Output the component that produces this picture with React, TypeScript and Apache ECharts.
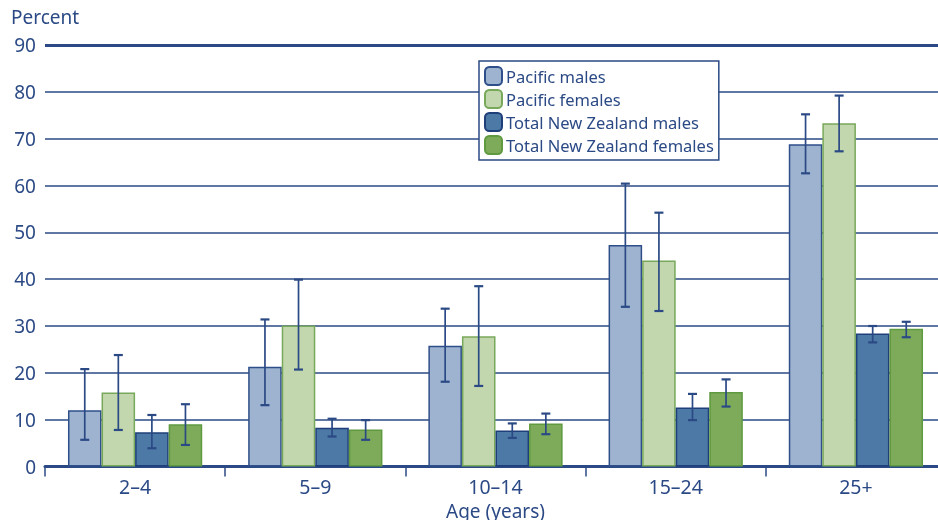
import React, { useEffect, useRef } from "react";
import * as echarts from "echarts";

const categories = ["2–4", "5–9", "10–14", "15–24", "25+"];
const seriesNames = ["Pacific males", "Pacific females", "Total New Zealand males", "Total New Zealand females"];
const pacificMales = [12.0, 21.3, 25.8, 47.3, 68.8];
const pacificFemales = [15.8, 30.1, 27.8, 44.0, 73.3];
const nzMales = [7.3, 8.3, 7.7, 12.6, 28.4];
const nzFemales = [9.0, 7.9, 9.2, 15.9, 29.4];
const pacificMalesLow = [5.7, 13.1, 18.1, 34.1, 62.6];
const pacificMalesHigh = [20.8, 31.4, 33.7, 60.4, 75.2];
const pacificFemalesLow = [7.8, 20.7, 17.2, 33.2, 67.3];
const pacificFemalesHigh = [23.8, 39.9, 38.5, 54.2, 79.2];
const nzMalesLow = [3.9, 6.4, 6.1, 9.9, 26.5];
const nzMalesHigh = [11.0, 10.2, 9.2, 15.5, 30.0];
const nzFemalesLow = [4.6, 5.7, 6.9, 12.8, 27.6];
const nzFemalesHigh = [13.3, 9.9, 11.3, 18.6, 30.9];
const yTicks = { min: 0, max: 90, interval: 10 };

const NAVY = "#2b4a85";
const FONT = "Noto Sans";

export default function App() {
  const ref = useRef<HTMLDivElement>(null);
  useEffect(() => {
    if (!ref.current) return;
    const chart = echarts.init(ref.current, null, { renderer: "svg" });
    const values = [pacificMales, pacificFemales, nzMales, nzFemales];
    const lows = [pacificMalesLow, pacificFemalesLow, nzMalesLow, nzFemalesLow];
    const highs = [pacificMalesHigh, pacificFemalesHigh, nzMalesHigh, nzFemalesHigh];
    const fills = ["#9db3cf", "#c2d7ad", "#4c79a5", "#7eab5a"];
    const borders = ["#2f4f8a", "#78a85a", "#1f3f7a", "#5f9a40"];
    const gapRatio = 0.255;

    const barSeries = values.map((v, i) => ({
      name: seriesNames[i],
      type: "bar",
      data: v,
      barGap: "0%",
      barCategoryGap: "25.5%",
      itemStyle: { color: fills[i], borderColor: borders[i], borderWidth: 1.5 },
      z: 2,
    }));

    const errSeries = values.map((_, k) => ({
      type: "custom",
      name: "err" + k,
      z: 5,
      silent: true,
      data: categories.map((_, j) => [j, lows[k][j], highs[k][j]]),
      renderItem: (params: any, api: any) => {
        const x = api.value(0);
        const lo = api.coord([x, api.value(1)]);
        const hi = api.coord([x, api.value(2)]);
        const band = api.size([1, 0])[0];
        const barW = (band * (1 - gapRatio)) / 4;
        const cx = lo[0] + (k - 1.5) * barW;
        const cap = 4.5;
        const st = { stroke: NAVY, lineWidth: 1.7 };
        return {
          type: "group",
          children: [
            { type: "line", shape: { x1: cx, y1: hi[1], x2: cx, y2: lo[1] }, style: st },
            { type: "line", shape: { x1: cx - cap, y1: hi[1], x2: cx + cap, y2: hi[1] }, style: { ...st, lineWidth: 2.2 } },
            { type: "line", shape: { x1: cx - cap, y1: lo[1], x2: cx + cap, y2: lo[1] }, style: { ...st, lineWidth: 2.2 } },
          ],
        };
      },
    }));

    chart.setOption({
      animation: false,
      textStyle: { fontFamily: FONT },
      grid: {
        left: 45,
        top: 45,
        width: 901,
        height: 421.5,
        containLabel: false,
        outerBoundsMode: "none",
      },
      legend: {
        data: seriesNames,
        orient: "vertical",
        left: 479,
        top: 61,
        itemWidth: 17,
        itemHeight: 18,
        itemGap: 3,
        padding: [5, 5, 5, 5],
        backgroundColor: "#ffffff",
        borderColor: NAVY,
        borderWidth: 1.5,
        borderRadius: 0,
        textStyle: { color: NAVY, fontSize: 16.5, lineHeight: 18, fontFamily: FONT, padding: [0, 0, 0, -1] },
        z: 10,
      },
      graphic: [
        {
          type: "text",
          left: 11,
          top: 7,
          style: { text: "Percent", fill: NAVY, font: `19px '${FONT}'` },
        },
      ],
      xAxis: {
        type: "category",
        data: categories,
        name: "Age (years)",
        nameLocation: "middle",
        nameGap: 35,
        nameTextStyle: { color: NAVY, fontSize: 19, fontFamily: FONT },
        axisLine: { lineStyle: { color: NAVY, width: 3 } },
        axisTick: { show: true, length: 10, lineStyle: { color: NAVY, width: 1.5 } },
        axisLabel: { color: NAVY, fontSize: 19.5, margin: 9.5, fontFamily: FONT },
        splitLine: { show: false },
      },
      yAxis: {
        type: "value",
        min: yTicks.min,
        max: yTicks.max,
        interval: yTicks.interval,
        axisLine: { show: false },
        axisTick: { show: false },
        axisLabel: { color: NAVY, fontSize: 19, margin: 9, fontFamily: FONT },
        splitLine: { lineStyle: { color: NAVY, width: 1.5 } },
      },
      series: [
        ...barSeries.map((s, i) =>
          i === 0
            ? {
                ...s,
                markLine: {
                  silent: true,
                  symbol: "none",
                  label: { show: false },
                  lineStyle: { color: NAVY, width: 3, type: "solid" },
                  data: [{ yAxis: 90 }],
                },
              }
            : s
        ),
        ...errSeries,
      ],
    });
    return () => chart.dispose();
  }, []);
  return (
    <div
      ref={ref}
      style={{ position: "fixed", left: 0, top: 0, width: 938, height: 520 }}
    />
  );
}
